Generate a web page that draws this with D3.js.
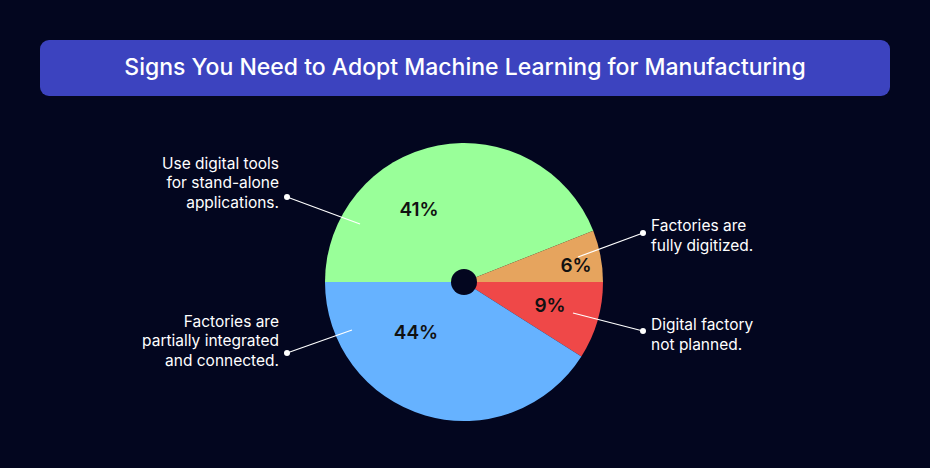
<!DOCTYPE html>
<html><head><meta charset="utf-8">
<script src="https://cdn.jsdelivr.net/npm/d3@7"></script>
<style>body{margin:0;background:#03061f;}svg{display:block;font-family:Inter,sans-serif;}</style>
</head><body><svg id="c" width="930" height="468"></svg>
<script>
const categories = ["Digital factory not planned.", "Factories are partially integrated and connected.", "Use digital tools for stand-alone applications.", "Factories are fully digitized."];
const labelValues = [9, 44, 41, 6];           // printed percentages
const sliceShares = [9, 41, 44, 6];           // slice sizes as drawn in the picture
const colors = ["#ef4848", "#66b2ff", "#99ff99", "#e6a45e"];
const labelLines = [["Digital factory","not planned."],["Factories are","partially integrated","and connected."],["Use digital tools","for stand-alone","applications."],["Factories are","fully digitized."]];
const pctPos = [[550,307],[416,334],[419,211],[576,267]];
const leaders = [[[643,331],[573,313]],[[287,353],[352,330]],[[287,197],[360,224]],[[643,233],[578,257]]];
const textPos = [[651,336,"start"],[279,342,"end"],[279,184,"end"],[651,237,"start"]];

const svg = d3.select("#c");
svg.append("rect").attr("width",930).attr("height",468).attr("fill","#03061f");
svg.append("rect").attr("x",40).attr("y",40).attr("width",850).attr("height",56).attr("rx",9).attr("fill","#3c43bf");
svg.append("text").attr("x",465).attr("y",69).attr("text-anchor","middle").attr("dominant-baseline","middle")
  .attr("fill","#fff").attr("font-size",23).attr("font-weight",500).text("Signs You Need to Adopt Machine Learning for Manufacturing");

const cx=464, cy=282, r=139;
const pie = d3.pie().sort(null).value(d=>d).startAngle(Math.PI/2).endAngle(Math.PI/2+2*Math.PI);
const arc = d3.arc().innerRadius(0).outerRadius(r);
const g = svg.append("g").attr("transform",`translate(${cx},${cy})`);
g.selectAll("path").data(pie(sliceShares)).join("path").attr("d",arc).attr("fill",(d,i)=>colors[i]);
g.append("circle").attr("r",13).attr("fill","#03061f");

labelValues.forEach((v,i)=>{
  svg.append("text").attr("x",pctPos[i][0]).attr("y",pctPos[i][1]).attr("text-anchor","middle").attr("dominant-baseline","middle")
    .attr("font-size",19).attr("font-weight",600).attr("fill","#111").text(v+"%");
  const L=leaders[i];
  svg.append("line").attr("x1",L[0][0]).attr("y1",L[0][1]).attr("x2",L[1][0]).attr("y2",L[1][1]).attr("stroke","#fff").attr("stroke-width",1.2);
  svg.append("circle").attr("cx",L[0][0]).attr("cy",L[0][1]).attr("r",3).attr("fill","#fff");
  const [tx,ty,anc]=textPos[i];
  const lines=labelLines[i], lh=19.5, y0=ty-(lines.length-1)*lh/2;
  const t=svg.append("text").attr("text-anchor",anc).attr("fill","#fff").attr("font-size",15.5);
  lines.forEach((s,j)=>t.append("tspan").attr("x",tx).attr("y",y0+j*lh).attr("dominant-baseline","middle").text(s));
});
</script></body></html>
